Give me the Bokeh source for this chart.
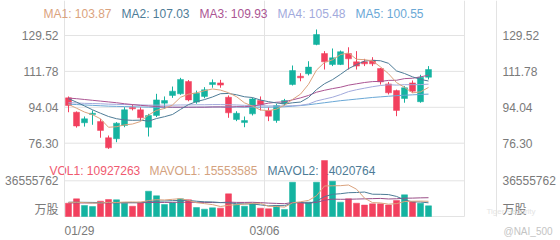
from bokeh.plotting import figure
from bokeh.models import Range1d, Label, ColumnDataSource
from bokeh.core.properties import value
from bokeh.embed import file_html
from bokeh.resources import INLINE

# ---------------- data ----------------
date_labels = ["01/29", "03/06"]
date_slots = [0, 25]          # category boundaries the labels belong to
n_slots = 50                  # categories on the time axis

open_ = [98.7, 91.6, 86.4, 90.5, 87.0, 79.0, 78.5, 85.05, 94.0, 92.8,
         84.2, 90.0, 96.1, 99.9, 100.7, 106.8, 96.6, 99.4, 105.3, 106.1,
         99.0, 88.0, 86.5, 90.8, 97.4, 92.5, 87.5, 95.8, 105.3, 109.4,
         110.6, 125.1, 120.6, 115.2, 115.2, 120.6, 116.5, 116.5, 117.3, 113.2,
         105.6, 102.3, 98.4, 106.1, 96.8, 108.9]
high = [99.4, 92.0, 89.5, 92.5, 88.4, 80.1, 86.7, 94.1, 95.6, 94.1,
        90.8, 100.7, 99.4, 104.3, 108.6, 107.5, 102.3, 104.0, 107.8, 107.6,
        99.9, 92.1, 89.5, 98.8, 99.4, 94.1, 95.8, 98.2, 114.7, 110.9,
        116.8, 132.5, 121.8, 123.1, 122.1, 123.7, 121.8, 118.0, 118.8, 113.5,
        106.6, 102.8, 104.5, 107.3, 110.1, 114.4]
low = [91.6, 84.0, 84.5, 85.4, 79.0, 73.5, 76.8, 84.2, 92.5, 87.5,
       79.6, 89.2, 93.3, 98.7, 100.2, 97.0, 95.8, 98.5, 103.7, 103.7,
       88.85, 87.2, 84.2, 90.0, 92.5, 87.2, 86.4, 94.9, 104.8, 106.9,
       109.8, 124.7, 112.7, 114.4, 114.9, 112.7, 112.7, 114.4, 114.4, 105.3,
       100.4, 89.65, 96.3, 101.2, 96.3, 107.8]
close = [94.9, 84.8, 88.35, 91.1, 82.6, 74.0, 86.2, 92.8, 93.3, 88.85,
         90.0, 97.7, 97.4, 102.0, 107.8, 97.7, 101.0, 102.7, 106.3, 105.0,
         91.3, 91.1, 87.5, 98.2, 95.4, 89.65, 94.9, 97.4, 112.2, 108.6,
         113.9, 130.0, 116.5, 118.5, 121.5, 118.0, 114.4, 115.5, 115.5, 106.6,
         101.2, 92.5, 103.7, 102.0, 108.9, 112.7]
volume = [13600000, 18100000, 11300000, 10200000, 15700000, 17400000, 17100000, 13600000, 10500000, 14700000,
          25900000, 21200000, 12300000, 14000000, 18100000, 17100000, 9200000, 7500000, 8900000, 8500000,
          23200000, 12300000, 10500000, 13000000, 8500000, 7900000, 11300000, 7200000, 35100000, 14000000,
          14700000, 35100000, 57300000, 36100000, 14700000, 18100000, 13600000, 11700000, 13000000, 13000000,
          11800000, 16400000, 22200000, 15000000, 13500000, 10927263]

ma1 = [95.5, 93.6, 91.7, 90.4, 88.35, 84.17, 84.45, 85.34, 85.78, 87.03,
       90.23, 92.53, 93.45, 95.19, 98.98, 100.52, 101.18, 102.24, 103.1, 102.54,
       101.26, 99.28, 96.24, 94.62, 92.7, 92.37, 93.13, 95.11, 97.91, 100.55,
       105.4, 112.42, 116.24, 117.5, 120.08, 120.9, 117.78, 117.58, 116.98, 114.0,
       110.64, 106.26, 103.9, 101.2, 101.66, 103.87]
ma2 = [98.3, 96.6, 94.7, 92.8, 91.1, 89.5, 88.4, 87.8, 87.6, 87.69,
       87.2, 88.49, 89.4, 90.49, 93.0, 95.38, 96.86, 97.85, 99.15, 100.76,
       100.89, 100.23, 99.24, 98.86, 97.62, 96.82, 96.2, 95.68, 96.27, 96.63,
       98.89, 102.78, 105.68, 107.7, 110.32, 113.15, 115.1, 116.91, 117.24, 117.04,
       115.77, 112.02, 110.74, 109.09, 107.83, 107.03]
ma3 = [98.6, 98.3, 97.9, 97.5, 97.1, 96.7, 96.3, 95.8, 95.4, 95.0,
       94.7, 94.4, 94.2, 94.1, 94.1, 94.1, 94.1, 94.1, 94.2, 94.23,
       94.05, 94.36, 94.32, 94.67, 95.31, 96.1, 96.53, 96.76, 97.71, 98.69,
       99.89, 101.5, 102.46, 103.28, 103.97, 104.98, 105.65, 106.29, 106.75, 106.83,
       107.33, 107.4, 108.21, 108.4, 109.07, 109.93]
ma4 = [96.3, 96.2, 96.0, 95.9, 95.8, 95.6, 95.5, 95.4, 95.3, 95.2,
       95.1, 95.1, 95.1, 95.1, 95.2, 95.2, 95.3, 95.3, 95.4, 95.4,
       95.3, 95.2, 95.0, 94.9, 94.8, 94.7, 94.7, 94.7, 94.8, 95.03,
       95.66, 97.17, 98.1, 99.02, 100.31, 101.78, 102.72, 103.48, 104.22, 104.81,
       105.18, 105.01, 105.22, 105.22, 105.26, 105.48]
ma5 = [95.6, 95.4, 95.2, 95.0, 94.8, 94.6, 94.5, 94.4, 94.3, 94.2,
       94.1, 94.0, 94.0, 94.0, 94.0, 94.0, 94.1, 94.1, 94.2, 94.2,
       94.2, 94.2, 94.1, 94.1, 94.1, 94.1, 94.2, 94.3, 94.6, 94.9,
       95.3, 95.8, 96.3, 96.8, 97.3, 97.7, 98.1, 98.5, 98.9, 99.2,
       99.5, 99.8, 100.0, 100.2, 100.4, 100.55]

mavol1 = [14.4, 14.6, 14.2, 13.8, 13.78, 14.54, 14.34, 14.8, 14.86, 14.66,
          16.36, 17.18, 16.92, 17.62, 18.3, 16.54, 14.14, 13.18, 12.16, 10.24,
          11.46, 12.08, 12.68, 13.5, 13.5, 10.44, 10.24, 9.58, 14.0, 15.1,
          16.46, 21.22, 31.24, 31.44, 31.58, 32.26, 27.96, 18.84, 14.22, 13.88,
          12.62, 13.18, 15.28, 15.68, 15.78, 15.553585]
mavol2 = [14.6, 14.6, 14.5, 14.4, 14.3, 14.3, 14.3, 14.3, 14.2, 14.22,
          15.45, 15.76, 15.86, 16.24, 16.48, 16.45, 15.66, 15.05, 14.89, 14.27,
          14.0, 13.11, 12.93, 12.83, 11.87, 10.95, 11.16, 11.13, 13.75, 14.3,
          13.45, 15.73, 20.41, 22.72, 23.34, 24.36, 24.59, 25.04, 22.83, 22.73,
          22.44, 20.57, 17.06, 14.95, 14.83, 14.020764]
mavol3 = [13.9, 13.9, 13.9, 13.9, 13.9, 14.0, 14.0, 14.0, 14.1, 14.1,
          14.3, 14.4, 14.4, 14.5, 14.6, 14.6, 14.5, 14.4, 14.3, 14.25,
          14.73, 14.44, 14.4, 14.54, 14.18, 13.7, 13.41, 13.09, 14.32, 14.29,
          13.73, 14.42, 16.67, 17.78, 17.61, 17.66, 17.88, 18.09, 18.29, 18.52,
          17.95, 18.15, 18.74, 18.84, 19.09, 19.24]

ma_names = ["MA1", "MA2", "MA3", "MA4", "MA5"]
ma_last = ["103.87", "107.03", "109.93", "105.48", "100.55"]
vol_names = ["VOL1", "MAVOL1", "MAVOL2"]
vol_last = ["10927263", "15553585", "14020764"]

price_ticks = [76.30, 94.04, 111.78, 129.52]
vol_ticks = [36555762]
vol_unit = "万股"

# ---------------- styling / layout ----------------
FONT = "Liberation Sans"
UP = "#14b3a0"
DOWN = "#f2405e"
GRID = "#e3e3e3"
AXIS_TXT = "#7a7a7a"
MA_COLORS = ["#dba37e", "#4e7c97", "#ab5593", "#a2aadc", "#6aa8d6"]
VOL_TXT = ["#f05a70", "#d4a27e", "#4e7c97"]
MAVOL_COLORS = ["#dba37e", "#4e7c97", "#9a4f88"]

W, H = 560, 240
FRAME_L = 64          # pixel column of slot 0
AXIS_R = 496          # pixel column of the right axis line
SLOT_PX = 8

# price panel: pixel rows of the lowest / highest tick
p_lo_px, p_hi_px = 142.7, 35.0
ppp = (price_ticks[-1] - price_ticks[0]) / (p_lo_px - p_hi_px)
p_top = price_ticks[-1] + p_hi_px * ppp

# volume panel: pixel rows of zero and of the tick
v_zero_px, v_tick_px = 216.0, 180.3
vpp = vol_ticks[0] / (v_zero_px - v_tick_px)


def sx(px):
    return (px - FRAME_L) / SLOT_PX


def py_price(py):
    return p_top - py * ppp


def py_vol(py):
    return (v_zero_px - py) * vpp


p = figure(width=W, height=H, output_backend="svg", toolbar_location=None,
           x_range=Range1d(sx(0), sx(W)),
           y_range=Range1d(py_price(H), py_price(0)),
           x_axis_location=None, y_axis_location=None,
           min_border=0, min_border_left=0, min_border_right=0,
           min_border_top=0, min_border_bottom=0)
p.extra_y_ranges = {"vol": Range1d(py_vol(H), py_vol(0))}
p.outline_line_color = None
p.background_fill_color = "white"
p.border_fill_color = "white"
p.grid.visible = False

n = len(close)
xs = [i + 0.5 for i in range(n)]
colors = [UP if c >= o else DOWN for o, c in zip(open_, close)]
src = ColumnDataSource(dict(
    x=xs, high=high, low=low,
    top=[max(o, c) for o, c in zip(open_, close)],
    bottom=[min(o, c) for o, c in zip(open_, close)],
    color=colors, volume=volume))

# ---- grid lines ----
p.segment(x0=[0] * len(price_ticks), y0=price_ticks,
          x1=[n_slots] * len(price_ticks), y1=price_ticks,
          line_color=GRID, line_width=1)
vgrid = [0] + vol_ticks
p.segment(x0=[0] * len(vgrid), y0=vgrid, x1=[n_slots] * len(vgrid), y1=vgrid,
          line_color=GRID, line_width=1, y_range_name="vol")
vlines = [0, 25, n_slots, sx(AXIS_R)]
p.segment(x0=vlines, y0=[0] * len(vlines), x1=vlines,
          y1=[py_vol(0)] * len(vlines), line_color=GRID, line_width=1,
          y_range_name="vol")

# ---- axis tick labels ----
lab_kw = dict(text_font=value(FONT), text_font_size=value("12px"),
              text_color=AXIS_TXT, text_baseline="middle")
ptxt = [f"{t:.2f}" for t in price_ticks]
p.text(x=[sx(58)] * len(price_ticks), y=price_ticks, text=ptxt,
       text_align="right", **lab_kw)
p.text(x=[sx(502)] * len(price_ticks), y=price_ticks, text=ptxt,
       text_align="left", **lab_kw)
vtxt = [str(t) for t in vol_ticks]
p.text(x=[sx(58)] * len(vol_ticks), y=vol_ticks, text=vtxt,
       text_align="right", y_range_name="vol", **lab_kw)
p.text(x=[sx(502)] * len(vol_ticks), y=vol_ticks, text=vtxt,
       text_align="left", y_range_name="vol", **lab_kw)
for px, al in [(58, "right"), (502, "left")]:
    p.add_layout(Label(x=sx(px), y=0, y_range_name="vol", text=vol_unit,
                       text_font="Noto Sans CJK SC", text_font_size="12px",
                       text_color=AXIS_TXT, text_align=al,
                       text_baseline="bottom"))

aligns = ["left", "center"]
for slot, txt, al in zip(date_slots, date_labels, aligns):
    p.add_layout(Label(x=slot, y=py_vol(230.6), y_range_name="vol", text=txt,
                       text_font=FONT, text_font_size="12px",
                       text_color=AXIS_TXT, text_align=al,
                       text_baseline="alphabetic"))

# ---- volume legend (behind bars) ----
vleg_x = [49, 149, 267]
for px, name, val, col in zip(vleg_x, vol_names, vol_last, VOL_TXT):
    p.add_layout(Label(x=sx(px), y=py_vol(170.6), y_range_name="vol",
                       text=f"{name}: {val}", text_font=FONT,
                       text_font_size="12px", text_color=col,
                       text_align="left", text_baseline="alphabetic",
                       level="underlay"))

# ---- candles ----
p.segment(x0="x", y0="high", x1="x", y1="low", line_color="color",
          line_width=1, source=src)
p.vbar(x="x", width=0.75, top="top", bottom="bottom", fill_color="color",
       line_color="color", line_width=0.5, source=src)
for vals, col in zip([ma5, ma4, ma3, ma2, ma1], MA_COLORS[::-1]):
    p.line(xs, vals, line_color=col, line_width=1)

# ---- volume bars ----
p.vbar(x="x", width=0.75, top="volume", bottom=0, fill_color="color",
       line_color="color", line_width=0.5, source=src, y_range_name="vol")
for vals, col in zip([mavol3, mavol2, mavol1], MAVOL_COLORS[::-1]):
    p.line(xs, [v * 1e6 for v in vals], line_color=col, line_width=1,
           y_range_name="vol")

# ---- price legend ----
leg_x = [43, 121, 199, 277, 355]
for px, name, val, col in zip(leg_x, ma_names, ma_last, MA_COLORS):
    p.add_layout(Label(x=sx(px), y=py_price(13.5), text=f"{name}: {val}",
                       text_font=FONT, text_font_size="12px", text_color=col,
                       text_align="left", text_baseline="alphabetic"))

# ---- watermark ----
p.add_layout(Label(x=sx(486), y=py_vol(211), y_range_name="vol",
                   text="Tiger Security", text_font=FONT,
                   text_font_size="8px", text_color="#e4e4e4",
                   text_align="left", text_baseline="alphabetic"))
p.add_layout(Label(x=sx(503), y=py_vol(230.6), y_range_name="vol",
                   text="@NAI_500", text_font=FONT, text_font_size="10px",
                   text_color="#c4c4c4", text_align="left",
                   text_baseline="alphabetic"))

open("out.html", "w").write(file_html(p, INLINE))
